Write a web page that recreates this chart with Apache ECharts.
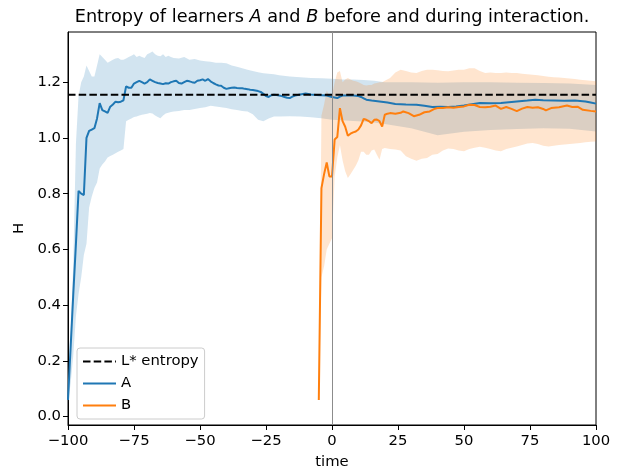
<!DOCTYPE html>
<html>
<head>
<meta charset="utf-8">
<title>Entropy of learners A and B</title>
<script src="https://cdn.jsdelivr.net/npm/echarts@6/dist/echarts.min.js"></script>
<style>html,body{margin:0;padding:0;background:#fff;}</style>
</head>
<body>
<div id="main" style="width:618px;height:469px;"></div>
<script>
// L* reference entropy (dashed line)
var lstarEntropy = 1.155;

// learner A, mean entropy
var aTime = [-100,-99,-98,-97,-96,-95,-94,-93,-92,-91,-90,-89,-88,-87,-86,-85,-84,-83,-82,-81,-80,-79,-78,-77,-76,-75,-74,-73,-72,-71,-70,-69,-68,-67,-66,-65,-64,-63,-62,-61,-60,-59,-58,-57,-56,-55,-54,-53,-52,-51,-50,-49,-48,-47,-46,-45,-44,-43,-42,-41,-40,-39,-38,-37,-36,-35,-34,-33,-32,-31,-30,-29,-28,-27,-26,-25,-24,-23,-22,-21,-20,-19,-18,-17,-16,-15,-14,-12,-10,-8,-6,-4,-2,0,1,2,3,4,6,8,10,11,12,13,15,18,21,24,28,32,35,38,41,44,47,50,53,56,60,64,67,70,74,77,80,84,88,92,96,98,100];
var aH = [0.06,0.25,0.44,0.62,0.81,0.80,0.795,1.00,1.025,1.03,1.035,1.07,1.125,1.10,1.095,1.09,1.112,1.12,1.13,1.128,1.13,1.135,1.185,1.18,1.18,1.195,1.20,1.205,1.20,1.195,1.20,1.21,1.205,1.20,1.197,1.195,1.193,1.196,1.195,1.20,1.203,1.205,1.197,1.195,1.20,1.205,1.203,1.20,1.198,1.205,1.207,1.21,1.205,1.211,1.203,1.197,1.192,1.188,1.187,1.18,1.176,1.178,1.18,1.181,1.179,1.178,1.178,1.176,1.175,1.173,1.172,1.17,1.168,1.165,1.158,1.15,1.147,1.153,1.155,1.154,1.152,1.15,1.147,1.144,1.143,1.148,1.152,1.156,1.159,1.156,1.154,1.153,1.152,1.147,1.145,1.143,1.148,1.152,1.152,1.152,1.15,1.147,1.142,1.137,1.134,1.131,1.127,1.122,1.12,1.119,1.115,1.111,1.112,1.111,1.113,1.116,1.121,1.125,1.124,1.125,1.128,1.131,1.134,1.137,1.135,1.134,1.133,1.134,1.131,1.127,1.123];

// learner A, spread band
var bandATime = [-100,-99,-98,-97,-96,-95,-94,-93,-92,-91,-90,-89,-88,-87,-86,-85,-84,-83,-82,-81,-80,-79,-78,-77,-76,-75,-74,-73,-72,-71,-70,-69,-68,-67,-66,-65,-64,-63,-62,-61,-60,-58,-56,-54,-52,-50,-48,-46,-44,-42,-40,-38,-36,-34,-32,-30,-28,-26,-24,-22,-20,-16,-12,-8,-4,0,4,8,12,16,20,30,40,50,60,70,80,90,100];
var bandAHigh = [0.07,0.30,0.55,0.98,1.15,1.20,1.22,1.26,1.24,1.22,1.22,1.26,1.30,1.29,1.28,1.27,1.275,1.28,1.285,1.287,1.28,1.28,1.285,1.29,1.295,1.30,1.29,1.295,1.29,1.287,1.30,1.305,1.31,1.30,1.295,1.293,1.30,1.29,1.295,1.29,1.287,1.285,1.29,1.28,1.283,1.278,1.275,1.273,1.27,1.27,1.268,1.26,1.255,1.25,1.245,1.24,1.236,1.232,1.23,1.228,1.225,1.22,1.218,1.215,1.214,1.212,1.21,1.21,1.208,1.205,1.20,1.20,1.198,1.20,1.20,1.198,1.197,1.195,1.19];
var bandALow = [0.05,0.12,0.22,0.36,0.44,0.50,0.58,0.62,0.75,0.79,0.82,0.84,0.89,0.905,0.915,0.93,0.935,0.94,0.945,0.95,0.955,0.96,1.06,1.065,1.07,1.075,1.077,1.08,1.083,1.085,1.087,1.089,1.088,1.08,1.075,1.071,1.08,1.088,1.09,1.093,1.095,1.097,1.10,1.10,1.104,1.107,1.11,1.115,1.113,1.11,1.107,1.103,1.10,1.097,1.095,1.085,1.065,1.06,1.07,1.077,1.077,1.078,1.077,1.074,1.071,1.065,1.063,1.061,1.059,1.055,1.05,1.035,1.01,1.022,1.028,1.032,1.035,1.033,1.023];

// learner B, mean entropy
var bTime = [-5,-4,-3,-2,-1,0,1,2,3,4,5,6,7,8,9,10,11,12,13,14,15,16,17,18,19,20,21,22,24,26,27,29,31,33,35,37,39,40,42,44,46,48,50,52,54,56,58,60,62,64,66,68,70,72,74,76,78,80,81,83,86,89,91,93,95,98,100];
var bH = [0.06,0.82,0.87,0.912,0.862,0.862,0.994,1.003,1.107,1.06,1.04,1.008,1.015,1.02,1.023,1.03,1.045,1.068,1.065,1.06,1.053,1.065,1.066,1.06,1.041,1.083,1.087,1.089,1.087,1.09,1.095,1.089,1.078,1.083,1.092,1.095,1.105,1.107,1.107,1.11,1.108,1.111,1.113,1.119,1.118,1.111,1.11,1.112,1.116,1.104,1.111,1.104,1.096,1.105,1.111,1.108,1.11,1.104,1.099,1.107,1.11,1.116,1.111,1.112,1.101,1.097,1.095];

// learner B, spread band
var bandBTime = [-5,-4,-3,-2,-1,0,1,2,3,4,5,6,7,8,9,10,11,12,13,14,15,16,17,18,19,20,22,24,26,28,30,32,34,36,38,40,42,44,46,48,50,52,54,56,58,60,62,64,66,68,70,72,74,76,78,80,82,84,86,88,90,92,94,96,98,100];
var bandBHigh = [0.06,1.08,1.12,1.17,1.15,1.15,1.20,1.235,1.24,1.20,1.21,1.215,1.21,1.205,1.203,1.20,1.195,1.19,1.188,1.19,1.19,1.195,1.197,1.20,1.20,1.205,1.215,1.235,1.245,1.24,1.235,1.233,1.24,1.245,1.245,1.243,1.24,1.239,1.242,1.245,1.245,1.25,1.25,1.24,1.233,1.235,1.233,1.233,1.235,1.233,1.233,1.23,1.228,1.227,1.225,1.222,1.219,1.218,1.217,1.215,1.213,1.211,1.209,1.207,1.205,1.203];
var bandBLow = [0.06,0.50,0.54,0.60,0.62,0.64,0.86,0.93,0.975,0.92,0.88,0.856,0.87,0.885,0.90,0.92,0.95,0.95,0.94,0.94,0.955,0.958,0.94,0.922,0.96,0.964,0.96,0.958,0.955,0.934,0.925,0.918,0.925,0.928,0.94,0.942,0.955,0.962,0.96,0.955,0.952,0.96,0.965,0.968,0.965,0.96,0.955,0.952,0.96,0.965,0.969,0.975,0.98,0.982,0.978,0.972,0.969,0.972,0.975,0.976,0.978,0.98,0.982,0.984,0.986,0.987];

var yTicks = [0, 0.2, 0.4, 0.6, 0.8, 1.0, 1.2];

var FONT = 'DejaVu Sans';
var FS = 14.8;   // tick / label size

function pairs(xs, ys) {
    return xs.map(function (x, i) { return [x, ys[i]]; });
}

// filled band drawn as one polygon through the axis scales
function bandSeries(times, lo, hi, color) {
    return {
        type: 'custom',
        silent: true,
        z: 1,
        clip: true,
        data: times.map(function (t, i) { return [t, lo[i], hi[i]]; }),
        encode: { x: 0, y: [1, 2] },
        renderItem: function (params, api) {
            if (params.dataIndex !== 0) return;
            var pts = [];
            for (var i = 0; i < times.length; i++) pts.push(api.coord([times[i], hi[i]]));
            for (var j = times.length - 1; j >= 0; j--) pts.push(api.coord([times[j], lo[j]]));
            return { type: 'polygon', shape: { points: pts }, style: { fill: color } };
        }
    };
}

var myChart = echarts.init(document.getElementById('main'));
var option = {
    animation: false,
    backgroundColor: '#fff',
    textStyle: { fontFamily: FONT },
    title: {
        text: 'Entropy of learners {i|A} and {i|B} before and during interaction.',
        left: 327,
        top: 3,
        textAlign: 'center',
        textStyle: {
            fontFamily: FONT, fontSize: 17.7, fontWeight: 'normal', color: '#000',
            rich: { i: { fontFamily: FONT, fontSize: 17.7, fontStyle: 'italic', color: '#000' } }
        }
    },
    legend: {
        data: ['L* entropy', 'A', 'B'],
        orient: 'vertical',
        left: 77,
        top: 348,
        itemWidth: 33,
        itemHeight: 14,
        itemGap: 7,
        padding: [6, 6, 6, 5],
        backgroundColor: 'rgba(255,255,255,0.8)',
        borderColor: '#cccccc',
        borderWidth: 1,
        borderRadius: 3,
        itemStyle: { opacity: 0, borderWidth: 0 },
        textStyle: { fontFamily: FONT, fontSize: FS, color: '#000' }
    },
    grid: {
        left: 68, right: 22, top: 32, bottom: 44,
        outerBoundsMode: 'none',
        containLabel: false,
        show: true, borderColor: '#000', borderWidth: 1
    },
    xAxis: {
        type: 'value',
        min: -100, max: 100, interval: 25,
        name: 'time', nameLocation: 'middle', nameGap: 30,
        nameTextStyle: { fontFamily: FONT, fontSize: FS, color: '#000' },
        axisLine: { onZero: false, lineStyle: { color: '#000', width: 1 } },
        axisTick: { length: 5, lineStyle: { color: '#000' } },
        axisLabel: {
            margin: 9, fontFamily: FONT, fontSize: FS, color: '#000',
            formatter: function (v) { return v < 0 ? '\u2212' + (-v) : '' + v; }
        },
        splitLine: { show: false }
    },
    yAxis: {
        type: 'value',
        min: -0.03, max: 1.38,
        name: 'H', nameLocation: 'middle', nameGap: 40,
        nameTextStyle: { fontFamily: FONT, fontSize: FS, color: '#000' },
        axisLine: { show: true, onZero: false, lineStyle: { color: '#000', width: 1 } },
        axisTick: { show: true, length: 5, lineStyle: { color: '#000' }, customValues: yTicks },
        axisLabel: {
            margin: 7, fontFamily: FONT, fontSize: FS, color: '#000',
            customValues: yTicks,
            formatter: function (v) { return v.toFixed(1); }
        },
        splitLine: { show: false }
    },
    series: [
        bandSeries(bandATime, bandALow, bandAHigh, 'rgba(31,119,180,0.2)'),
        bandSeries(bandBTime, bandBLow, bandBHigh, 'rgba(255,127,14,0.2)'),
        {
            name: 'L* entropy',
            type: 'line',
            z: 4,
            symbol: 'none',
            data: [[-100, lstarEntropy], [100, lstarEntropy]],
            lineStyle: { color: '#000', width: 2, type: [7.5, 3.2] },
            itemStyle: { color: '#000' }
        },
        {
            name: 'A',
            type: 'line',
            z: 3,
            symbol: 'none',
            data: pairs(aTime, aH),
            lineStyle: { color: '#1f77b4', width: 2 },
            itemStyle: { color: '#1f77b4' },
            markLine: {
                silent: true,
                symbol: ['none', 'none'],
                label: { show: false },
                lineStyle: { color: '#8c8c8c', width: 1, type: 'solid' },
                data: [{ xAxis: 0 }]
            }
        },
        {
            name: 'B',
            type: 'line',
            z: 3,
            symbol: 'none',
            data: pairs(bTime, bH),
            lineStyle: { color: '#ff7f0e', width: 2 },
            itemStyle: { color: '#ff7f0e' }
        }
    ]
};
myChart.setOption(option);
</script>
</body>
</html>
